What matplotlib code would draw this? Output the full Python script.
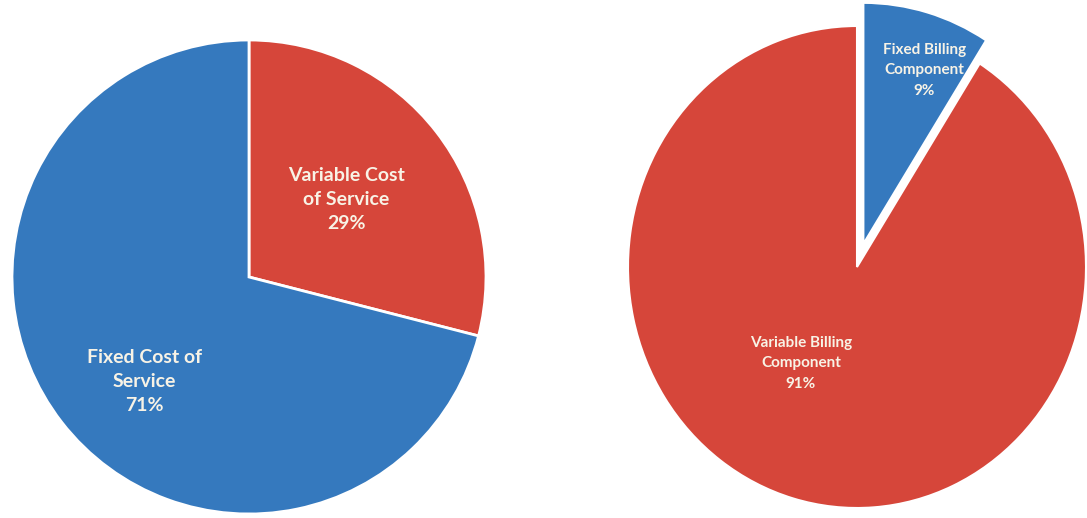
import matplotlib
matplotlib.use("Agg")
import matplotlib.pyplot as plt

# ---- data ----
left_labels = ["Variable Cost\nof Service", "Fixed Cost of\nService"]
left_values = [29, 71]
right_labels = ["Fixed Billing\nComponent", "Variable Billing\nComponent"]
right_values = [9, 91]

BLUE = "#3579BE"
RED = "#D6463A"
TXT = "#F8F3E6"

W, H = 1087, 518
fig = plt.figure(figsize=(W / 100, H / 100), dpi=100)
fig.patch.set_facecolor("white")


def axes_px(cx, cy, rx, ry):
    # cx, cy in pixels from top-left
    return fig.add_axes([(cx - rx) / W, (H - cy - ry) / H, 2 * rx / W, 2 * ry / H])


# Left pie
axL = axes_px(249, 277, 237, 237)
axL.pie(left_values, colors=[RED, BLUE], startangle=90, counterclock=False,
        radius=1, wedgeprops=dict(edgecolor="white", linewidth=2.0))
axL.set_aspect("auto")
axL.set_xlim(-1, 1)
axL.set_ylim(-1, 1)
axL.axis("off")
left_pos = [(0.41, 0.325), (-0.44, -0.44)]
for lab, v, (x, y) in zip(left_labels, left_values, left_pos):
    axL.text(x, y, f"{lab}\n{v}%", ha="center", va="center", color=TXT,
             fontsize=14, fontweight="bold", family="Lato", linespacing=1.5)

# Right pie
axR = axes_px(857, 267, 229, 241)
axR.pie(right_values, colors=[BLUE, RED], startangle=90, counterclock=False,
        radius=1, explode=[0.10, 0],
        wedgeprops=dict(edgecolor="white", linewidth=1.5))
axR.set_aspect("auto")
axR.set_xlim(-1, 1)
axR.set_ylim(-1, 1)
axR.axis("off")
right_pos = [(0.293, 0.817), (-0.245, -0.40)]
for lab, v, (x, y) in zip(right_labels, right_values, right_pos):
    axR.text(x, y, f"{lab}\n{v}%", ha="center", va="center", color=TXT,
             fontsize=11, fontweight="bold", family="Lato", linespacing=1.6)

for ax in (axL, axR):
    for p in ax.patches:
        p.set_clip_on(False)

fig.savefig("out.png", dpi=100, facecolor="white")
